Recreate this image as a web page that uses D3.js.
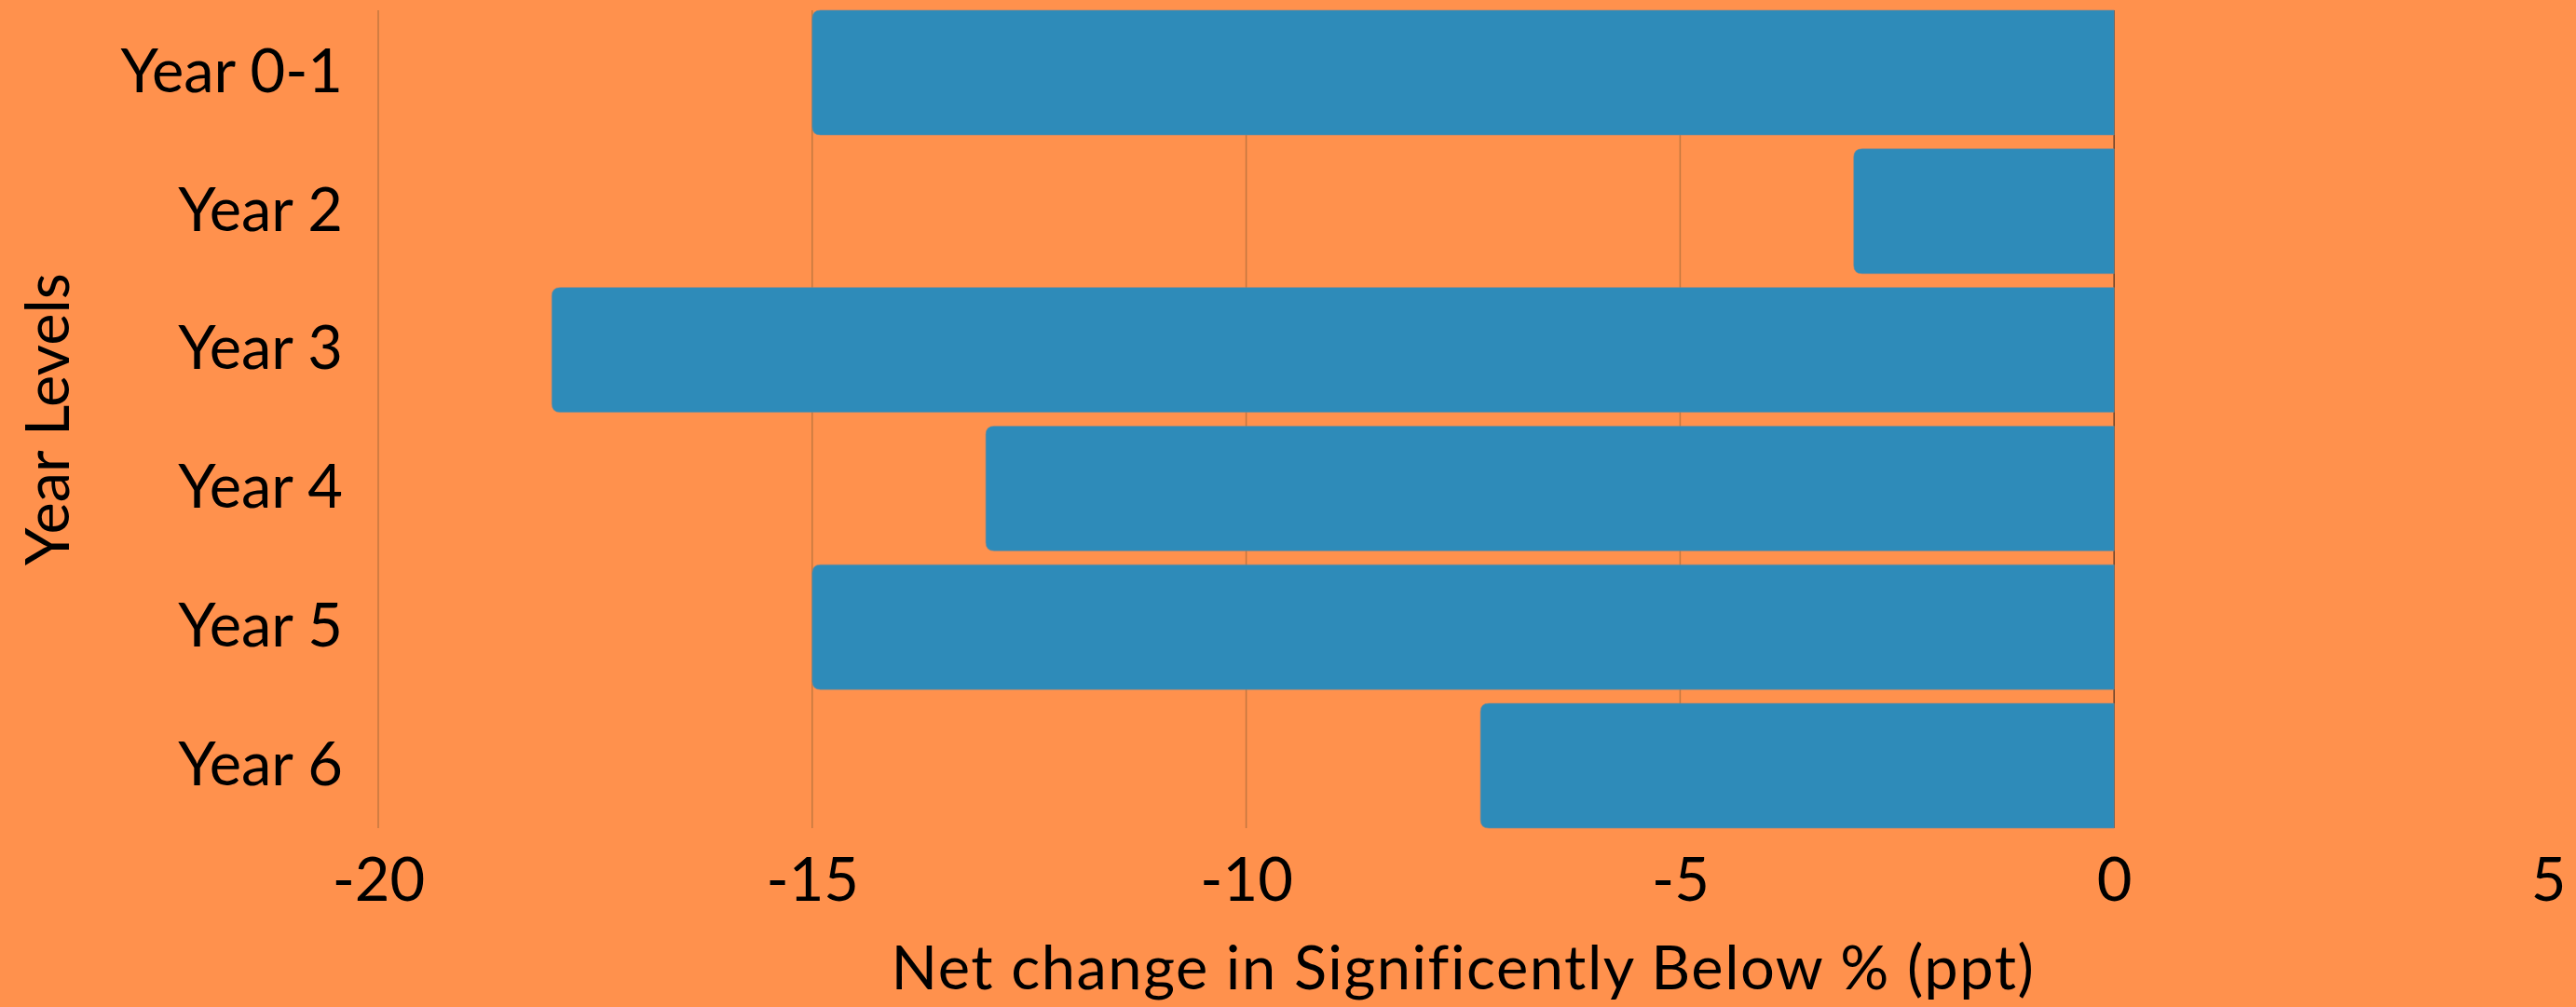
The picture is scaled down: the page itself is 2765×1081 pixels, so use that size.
<!DOCTYPE html>
<html>
<head>
<meta charset="utf-8">
<script src="https://cdn.jsdelivr.net/npm/d3@7"></script>
<style>
  html, body { margin: 0; padding: 0; background: #ff914d; }
  svg text { font-family: Lato, "Noto Sans", sans-serif; fill: #000; }
</style>
</head>
<body>
<svg id="chart"></svg>
<script>
// Chart data
var categories = ["Year 0-1", "Year 2", "Year 3", "Year 4", "Year 5", "Year 6"];
var values = [-15, -3, -18, -13, -15, -7.3];
var xTicks = [-20, -15, -10, -5, 0, 5];

var xTitle = "Net change in Significently Below % (ppt)";
var yTitle = "Year Levels";

// Size & margins
var width = 2765,
  height = 1081;
var margin = { top: 11, right: 30, bottom: 192, left: 406 };
var innerW = width - margin.left - margin.right,
  innerH = height - margin.top - margin.bottom;

var svg = d3.select("#chart")
  .attr("width", width)
  .attr("height", height);

svg.append("rect")
  .attr("width", width)
  .attr("height", height)
  .attr("fill", "#ff914d");

var g = svg.append("g")
  .attr("transform", "translate(" + margin.left + "," + margin.top + ")");

// Scales
var x = d3.scaleLinear()
  .domain([-20, 5])
  .range([0, innerW]);

var y = d3.scaleBand()
  .domain(categories)
  .range([0, innerH])
  .paddingInner(0.1)
  .paddingOuter(0);

// Vertical gridlines (none at +5)
g.selectAll(".grid")
  .data(xTicks.filter(function(d) { return d <= 0; }))
  .enter().append("line")
  .attr("class", "grid")
  .attr("x1", function(d) { return x(d); })
  .attr("x2", function(d) { return x(d); })
  .attr("y1", 0)
  .attr("y2", innerH)
  .attr("stroke", function(d) { return d === 0 ? "#6b4128" : "#c4773f"; })
  .attr("stroke-width", 1.5);

// Bar path with rounded left corners only
function barPath(d, i) {
  var x0 = x(d), x1 = x(0),
    y0 = y(categories[i]), h = y.bandwidth(),
    r = Math.min(9, (x1 - x0) / 2);
  return "M" + x1 + "," + y0 +
    "H" + (x0 + r) +
    "Q" + x0 + "," + y0 + " " + x0 + "," + (y0 + r) +
    "V" + (y0 + h - r) +
    "Q" + x0 + "," + (y0 + h) + " " + (x0 + r) + "," + (y0 + h) +
    "H" + x1 + "Z";
}

g.selectAll(".bar")
  .data(values)
  .enter().append("path")
  .attr("class", "bar")
  .attr("d", barPath)
  .attr("fill", "#2e8bb9")
  .attr("stroke", "#7b8a94")
  .attr("stroke-width", 0.6);

// Y axis labels
var yAxis = d3.axisLeft(y).tickSize(0).tickPadding(38);
g.append("g")
  .attr("class", "y-axis")
  .call(yAxis)
  .call(function(s) { s.select(".domain").remove(); })
  .selectAll("text")
  .style("font-size", "65px")
  .attr("fill", "#000");

// X axis labels (plain hyphen for the minus)
var xAxis = d3.axisBottom(x).tickValues(xTicks).tickSize(0).tickPadding(32)
  .tickFormat(function(d) { return String(d); });
g.append("g")
  .attr("class", "x-axis")
  .attr("transform", "translate(0," + innerH + ")")
  .call(xAxis)
  .call(function(s) { s.select(".domain").remove(); })
  .selectAll("text")
  .style("font-size", "65px")
  .attr("fill", "#000");

// Axis titles
svg.append("text")
  .attr("x", margin.left + innerW / 2)
  .attr("y", 1062)
  .attr("text-anchor", "middle")
  .style("font-size", "65px")
  .style("letter-spacing", "1.5px")
  .text(xTitle);

svg.append("text")
  .attr("transform", "translate(74," + (margin.top + innerH / 2) + ") rotate(-90)")
  .attr("text-anchor", "middle")
  .style("font-size", "65px")
  .text(yTitle);
</script>
</body>
</html>
